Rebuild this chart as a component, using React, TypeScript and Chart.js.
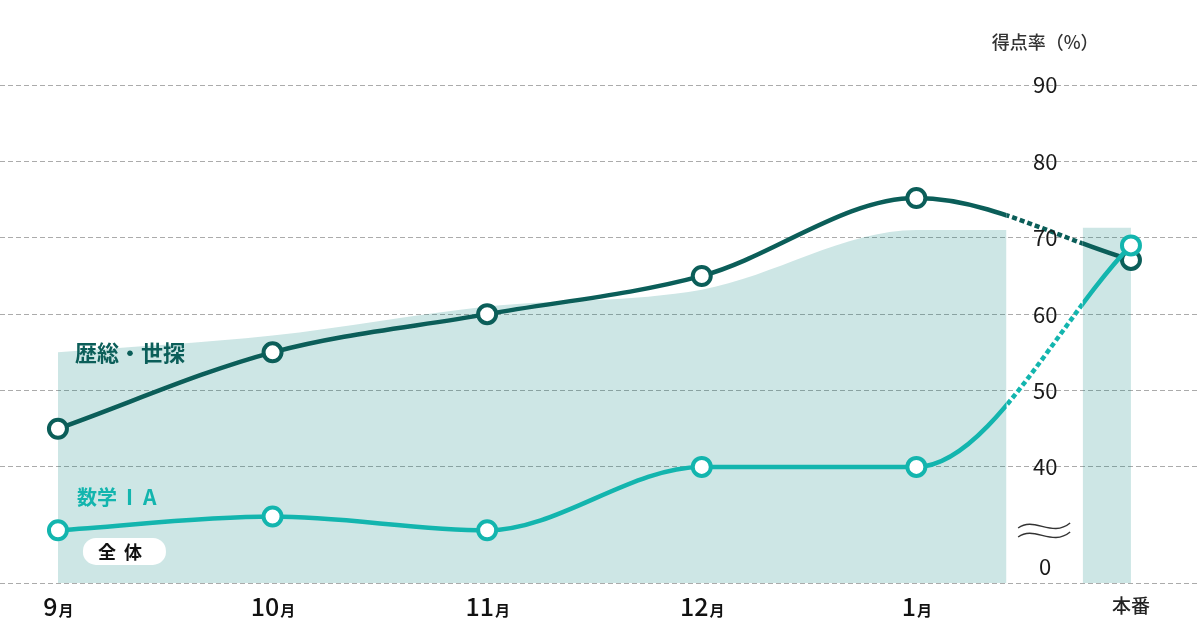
import { useEffect, useRef } from "react"
import { Chart, registerables } from "chart.js"

Chart.register(...registerables)

// categories along the bottom
const categories = ["9月", "10月", "11月", "12月", "1月", "本番"]

// score series (percent, as plotted)
const rekisoValues = [45, 55, 60, 65, 75.2, 67.1]
const sugakuValues = [31.7, 33.5, 31.7, 40, 40, 69]

// overall average band
const zentaiX = [0, 1, 2, 3, 4, 4.42]
const zentaiValues = [55, 57.2, 61, 63.2, 71, 71]
const honbanX = [4.775, 5]
const honbanValues = [71.3, 71.3]

// right-hand tick labels
const yTicks = [40, 50, 60, 70, 80, 90]
const yMin = 24.8
const yMax = 90

// x range where the lines become dotted
const gapRange = [4.42, 4.775]

const DARK = "#0b5e59"
const TEAL = "#13b5ae"
const AREA = "rgba(5, 130, 125, 0.2)"
const JP = '"Noto Sans CJK JP", "Noto Sans", sans-serif'

const toPoints = (xs: number[], ys: number[]) => ys.map((y, i) => ({ x: xs[i], y }))
const idx = categories.map((_, i) => i)

const gapClipPlugin = {
  id: "gapClip",
  beforeDatasetDraw(chart: any, args: any) {
    const mode = chart.data.datasets[args.index].gapMode
    if (!mode) return
    const { ctx } = chart
    const xs = chart.scales.x
    const g1 = xs.getPixelForValue(gapRange[0])
    const g2 = xs.getPixelForValue(gapRange[1])
    ctx.save()
    ctx.beginPath()
    if (mode === "inside") {
      ctx.rect(g1, 0, g2 - g1, chart.height)
    } else {
      ctx.rect(0, 0, g1, chart.height)
      ctx.rect(g2, 0, chart.width - g2, chart.height)
    }
    ctx.clip()
  },
  afterDatasetDraw(chart: any, args: any) {
    if (chart.data.datasets[args.index].gapMode) chart.ctx.restore()
  },
}

const labelPlugin = {
  id: "labels",
  afterDraw(chart: any) {
    const { ctx, scales, chartArea } = chart
    const xs = scales.x
    const ys = scales.y
    const axisX = xs.getPixelForValue(4.6)
    ctx.save()

    // y tick labels
    ctx.fillStyle = "#1a1a1a"
    ctx.font = `400 22px ${JP}`
    ctx.textAlign = "center"
    ctx.textBaseline = "middle"
    yTicks.forEach((v) => ctx.fillText(String(v), axisX, ys.getPixelForValue(v)))
    ctx.fillText("0", axisX, chartArea.bottom - 16)

    // axis break
    ctx.strokeStyle = "#333"
    ctx.lineWidth = 1.4
    const bx = axisX - 27
    const by = chartArea.bottom - 57
    ;[0, 9].forEach((off) => {
      ctx.beginPath()
      ctx.moveTo(bx, by + off + 2)
      ctx.bezierCurveTo(bx + 16, by + off - 10, bx + 34, by + off + 12, bx + 52, by + off - 3)
      ctx.stroke()
    })

    // unit
    ctx.fillStyle = "#333"
    ctx.font = `500 18px ${JP}`
    ctx.fillText("得点率（%）", axisX, ys.getPixelForValue(yMax) - 43)

    // x labels
    ctx.textBaseline = "alphabetic"
    const ly = chartArea.bottom + 33
    categories.forEach((c, i) => {
      const cx = xs.getPixelForValue(i)
      const m = c.match(/^(\d+)(.*)$/)
      if (m) {
        ctx.font = `500 25px ${JP}`
        const w1 = ctx.measureText(m[1]).width
        ctx.font = `700 15px ${JP}`
        const w2 = ctx.measureText(m[2]).width
        const sx = cx - (w1 + w2) / 2
        ctx.textAlign = "left"
        ctx.fillStyle = "#111"
        ctx.font = `500 25px ${JP}`
        ctx.fillText(m[1], sx, ly)
        ctx.font = `700 15px ${JP}`
        ctx.fillText(m[2], sx + w1 + 1, ly)
      } else {
        ctx.textAlign = "center"
        ctx.fillStyle = "#222"
        ctx.font = `500 19px ${JP}`
        ctx.fillText(c, cx, ly - 3)
      }
    })

    // series labels
    const x0 = xs.getPixelForValue(0) + 17
    ctx.textAlign = "left"
    ctx.textBaseline = "middle"
    ctx.font = `700 22px ${JP}`
    ctx.fillStyle = DARK
    ctx.fillText("歴総・世探", x0, ys.getPixelForValue(55))
    ctx.font = `700 20px ${JP}`
    ctx.fillStyle = TEAL
    const my = ys.getPixelForValue(36)
    ctx.fillText("数学", x0 + 2, my)
    const w = ctx.measureText("数学").width
    ;(ctx as any).letterSpacing = "3px"
    ctx.font = `700 21px ${JP}`
    ctx.fillText("ⅠA", x0 + w + 4, my)

    // overall pill
    const py = ys.getPixelForValue(29)
    ctx.fillStyle = "#fff"
    ctx.beginPath()
    ctx.roundRect(x0 + 8, py - 13, 83, 27, 13)
    ctx.fill()
    ctx.fillStyle = "#111"
    ;(ctx as any).letterSpacing = "8px"
    ctx.font = `700 18px ${JP}`
    ctx.fillText("全体", x0 + 23, py + 1)
    ctx.restore()
  },
}

export default function App() {
  const chartRef = useRef<HTMLCanvasElement>(null)
  const chartInstance = useRef<Chart | null>(null)

  useEffect(() => {
    if (!chartRef.current) return
    if (chartInstance.current) chartInstance.current.destroy()

    const lineBase = {
      type: "line" as const,
      borderWidth: 4.5,
      fill: false,
      cubicInterpolationMode: "monotone" as const,
      pointRadius: 9,
      pointHoverRadius: 9,
      pointBorderWidth: 4,
      pointBackgroundColor: "#fff",
    }

    const ctx = chartRef.current.getContext("2d")
    if (!ctx) return

    chartInstance.current = new Chart(ctx, {
      type: "line",
      data: {
        datasets: [
          { ...lineBase, label: "数学ⅠA", data: toPoints(idx, sugakuValues), borderColor: TEAL, pointBorderColor: TEAL, gapMode: "outside" } as any,
          { ...lineBase, label: "数学ⅠA dotted", data: toPoints(idx, sugakuValues), borderColor: TEAL, pointRadius: 0, borderDash: [5, 3], gapMode: "inside" } as any,
          { ...lineBase, label: "歴総・世探", data: toPoints(idx, rekisoValues), borderColor: DARK, pointBorderColor: DARK, gapMode: "outside" } as any,
          { ...lineBase, label: "歴総・世探 dotted", data: toPoints(idx, rekisoValues), borderColor: DARK, pointRadius: 0, borderDash: [5, 3], gapMode: "inside" } as any,
          {
            type: "line",
            label: "全体",
            data: toPoints(zentaiX, zentaiValues),
            borderWidth: 0,
            pointRadius: 0,
            cubicInterpolationMode: "monotone",
            fill: "origin",
            backgroundColor: AREA,
          },
          {
            type: "line",
            label: "全体 本番",
            data: toPoints(honbanX, honbanValues),
            borderWidth: 0,
            pointRadius: 0,
            tension: 0,
            fill: "origin",
            backgroundColor: AREA,
          },
        ],
      },
      options: {
        responsive: true,
        maintainAspectRatio: false,
        animation: false,
        layout: { autoPadding: false, padding: { top: 85, bottom: 61, left: 0, right: 0 } },
        plugins: { legend: { display: false }, tooltip: { enabled: false } },
        scales: {
          x: {
            type: "linear",
            display: false,
            min: -0.27,
            max: 5.317,
            ticks: { display: false },
          },
          y: {
            min: yMin,
            max: yMax,
            afterBuildTicks: (s: any) => {
              s.ticks = [yMin, ...yTicks].map((v) => ({ value: v }))
            },
            afterFit: (s: any) => {
              s.width = 0
            },
            ticks: { display: false },
            grid: { color: "#ababab", lineWidth: 1, drawTicks: false },
            border: { display: false, dash: [5, 3] },
          },
        },
      },
      plugins: [gapClipPlugin, labelPlugin],
    })

    return () => {
      if (chartInstance.current) {
        chartInstance.current.destroy()
        chartInstance.current = null
      }
    }
  }, [])

  return (
    <div style={{ position: "fixed", left: 0, top: 0, width: 1199, height: 644, background: "#fff" }}>
      <canvas ref={chartRef} />
    </div>
  )
}
